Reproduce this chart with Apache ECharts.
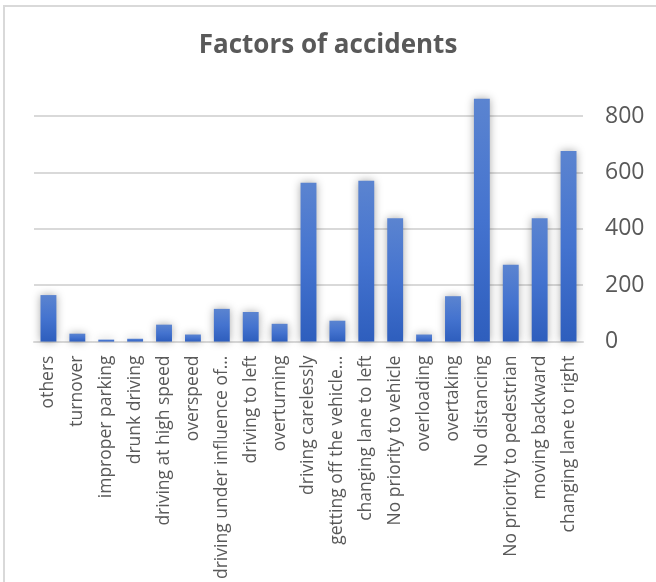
<!DOCTYPE html>
<html>
<head>
<meta charset="utf-8">
<script src="https://cdn.jsdelivr.net/npm/echarts@6/dist/echarts.min.js"></script>
<style>
  html, body { margin: 0; padding: 0; background: #ffffff; }
  #chart { width: 656px; height: 582px; }
</style>
</head>
<body>
<div id="chart"></div>
<script>
// Accident factors and their counts
const categories = [
  'others', 'turnover', 'improper parking', 'drunk driving',
  'driving at high speed', 'overspeed', 'driving under influence of\u2026',
  'driving to left', 'overturning', 'driving carelessly',
  'getting off the vehicle\u2026', 'changing lane to left',
  'No priority to vehicle', 'overloading', 'overtaking', 'No distancing',
  'No priority to pedestrian', 'moving backward', 'changing lane to right'
];
const counts = [165, 28, 7, 10, 60, 25, 116, 105, 63, 564, 74, 571, 438, 25, 161, 862, 273, 438, 676];
const yTicks = [0, 200, 400, 600, 800];

const chart = echarts.init(document.getElementById('chart'), null, { renderer: 'canvas' });

chart.setOption({
  backgroundColor: '#ffffff',
  animation: false,
  title: {
    text: 'Factors of accidents',
    left: 'center',
    top: 28,
    textStyle: {
      fontFamily: 'Open Sans',
      fontWeight: 'bold',
      fontSize: 26,
      color: '#595959'
    }
  },
  graphic: [{
    type: 'rect',
    shape: { x: 4, y: 6, width: 700, height: 700 },
    style: { fill: 'none', stroke: '#d9d9d9', lineWidth: 2 },
    silent: true
  }],
  grid: { left: 34, width: 549, top: 88, bottom: 237 },
  xAxis: {
    type: 'category',
    data: categories,
    axisLine: { show: true, lineStyle: { color: '#d9d9d9', width: 2 } },
    axisTick: { show: false },
    axisLabel: {
      rotate: 90,
      interval: 0,
      margin: 14,
      fontFamily: 'Open Sans',
      fontSize: 17.5,
      color: '#595959'
    }
  },
  yAxis: {
    type: 'value',
    position: 'right',
    min: yTicks[0],
    max: 900,
    interval: yTicks[1] - yTicks[0],
    axisLine: { show: false },
    axisTick: { show: false },
    axisLabel: {
      margin: 22,
      fontFamily: 'Open Sans',
      fontSize: 23,
      color: '#595959',
      showMaxLabel: false,
      formatter: v => (yTicks.indexOf(v) >= 0 ? String(v) : '')
    },
    splitLine: { showMaxLine: false, lineStyle: { color: '#d9d9d9', width: 2 } }
  },
  series: [{
    type: 'bar',
    data: counts,
    barWidth: '55%',
    itemStyle: {
      color: new echarts.graphic.LinearGradient(0, 0, 0, 1, [
        { offset: 0, color: '#5b84d0' },
        { offset: 0.5, color: '#4473cf' },
        { offset: 1, color: '#2e5ebd' }
      ]),
      shadowBlur: 8,
      shadowColor: 'rgba(0,0,0,0.35)'
    }
  }]
});
</script>
</body>
</html>
